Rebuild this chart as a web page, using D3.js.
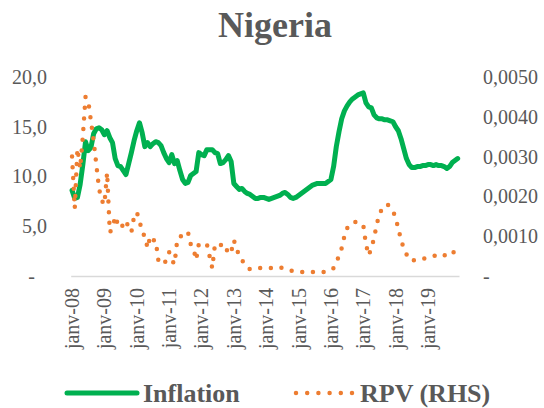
<!DOCTYPE html>
<html>
<head>
<meta charset="utf-8">
<script src="https://cdn.jsdelivr.net/npm/d3@7"></script>
<style>
    body { margin: 0; background: #fff; }
    #chart { width: 544px; height: 408px; }
    text { font-family: 'Liberation Serif', 'Times New Roman', serif; fill: #595959; }
</style>
</head>
<body>
<div id="chart"></div>
<script>
// Month categories, Jan 2008 .. Dec 2019
var monthNames = ['janv', 'févr', 'mars', 'avr', 'mai', 'juin', 'juil', 'août', 'sept', 'oct', 'nov', 'déc'];
var years = ['08', '09', '10', '11', '12', '13', '14', '15', '16', '17', '18', '19'];
var months = [];
years.forEach(function(y) {
    monthNames.forEach(function(m) { months.push(m + '-' + y); });
});

// Inflation (%, left axis)
var inflation = [
    8.6, 7.8, 7.9, 9.2, 11.2, 13.5, 12.6, 12.9, 14.3, 14.8, 14.9, 14.7,
    14.2, 14.6, 13.9, 13.4, 11.8, 11.1, 11.0, 10.6, 10.2, 11.3, 12.4, 13.6,
    14.6, 15.4, 14.4, 13.0, 13.4, 13.0, 13.3, 13.5, 13.4, 13.1, 12.4, 11.8,
    11.4, 12.2, 11.3, 11.6, 10.6, 9.7, 9.3, 9.4, 10.1, 10.3, 10.5, 12.4,
    12.2, 12.1, 12.7, 12.7, 12.7, 12.4, 12.3, 11.3, 11.4, 11.7, 12.1, 11.5,
    9.3, 9.0, 8.7, 8.8, 8.5, 8.3, 8.2, 8.0, 7.8, 7.8, 7.9, 7.9,
    7.8, 7.7, 7.8, 7.9, 8.0, 8.1, 8.3, 8.4, 8.2, 7.9, 7.8, 7.9,
    8.1, 8.3, 8.5, 8.7, 8.9, 9.1, 9.2, 9.3, 9.3, 9.3, 9.3, 9.5,
    9.7, 11.0, 13.0, 14.5, 15.8, 16.6, 17.1, 17.5, 17.8, 18.0, 18.2, 18.3,
    18.4, 17.4, 17.0, 16.9, 16.2, 15.9, 15.8, 15.8, 15.7, 15.7, 15.6, 15.5,
    15.0, 14.6, 13.8, 12.8, 11.8, 11.2, 10.9, 10.9, 11.0, 11.0, 11.1, 11.1,
    11.2, 11.2, 11.1, 11.2, 11.1, 11.1, 11.0, 10.8, 11.0, 11.4, 11.6, 11.8
];

// Relative price variability (right axis)
var rpv = [
    0.0030, 0.0017, 0.0032, 0.0027, 0.0035, 0.0045, 0.0044, 0.0039, 0.0034, 0.0028, 0.0022, 0.0019,
    0.0018, 0.0026, 0.0011, 0.0012, 0.0015, 0.0013, 0.0012, 0.0013, 0.0014, 0.0012, 0.0011, 0.0015,
    0.0016, 0.0014, 0.0011, 0.0010, 0.0007, 0.0010, 0.0009, 0.0009, 0.0004, 0.0003, 0.0003, 0.0004,
    0.0006, 0.0004, 0.0003, 0.0009, 0.0010, 0.0010, 0.0010, 0.0011, 0.0008, 0.0007, 0.0004, 0.0008,
    0.0008, 0.0008, 0.0008, 0.0005, 0.0002, 0.0008, 0.0008, 0.0008, 0.0007, 0.0006, 0.0007, 0.0006,
    0.0009, 0.0007, 0.0005, 0.0004, 0.0003, 0.0002, 0.00017, 0.00017, 0.00018, 0.0002, 0.0002, 0.0002,
    0.0002, 0.0002, 0.0002, 0.0002, 0.00021, 0.00022, 0.0002, 0.00018, 0.00015, 0.00014, 0.00012, 0.00011,
    0.0001, 0.0001, 0.0001, 0.0001, 0.0001, 0.0001, 0.0001, 0.0001, 0.0001, 0.0001, 0.0001, 0.00012,
    0.00016, 0.0002, 0.00035, 0.0005, 0.0007, 0.0010, 0.0012, 0.0013, 0.00135, 0.00136, 0.00135, 0.0013,
    0.00128, 0.0008, 0.00052, 0.0007, 0.00095, 0.0013, 0.00155, 0.0017, 0.00178, 0.0018, 0.00172, 0.00165,
    0.00145, 0.0012, 0.0009, 0.0007, 0.00055, 0.00042, 0.00038, 0.0004, 0.0004, 0.00042, 0.00043, 0.00045,
    0.00047, 0.00048, 0.0005, 0.00052, 0.00055, 0.00056, 0.00053, 0.0005, 0.0005, 0.00057, 0.00063, 0.0007
];

// Axis ticks
var xTickLabels = ['janv-08', 'janv-09', 'janv-10', 'janv-11', 'janv-12', 'janv-13',
                   'janv-14', 'janv-15', 'janv-16', 'janv-17', 'janv-18', 'janv-19'];
var leftTicks = [0, 5, 10, 15, 20];
var rightTicks = [0, 0.001, 0.002, 0.003, 0.004, 0.005];

var green = '#00b050';
var orange = '#ed7d31';

var svg = d3.select('#chart').append('svg')
    .attr('width', 544)
    .attr('height', 408);

// Plot area
var plot = {left: 70.7, right: 459, top: 77, bottom: 276};

var x = d3.scaleBand().domain(months).range([plot.left, plot.right]);
var yL = d3.scaleLinear().domain([0, 20]).range([plot.bottom, plot.top]);
var yR = d3.scaleLinear().domain([0, 0.005]).range([plot.bottom, plot.top]);

function cx(i) { return x(months[i]) + x.bandwidth() / 2; }

// Title
svg.append('text')
    .attr('x', 275)
    .attr('y', 37)
    .style('text-anchor', 'middle')
    .style('font-size', '36px')
    .style('font-weight', 'bold')
    .text('Nigeria');

// Left axis
var leftAxis = d3.axisLeft(yL)
    .tickValues(leftTicks)
    .tickSize(0)
    .tickPadding(0)
    .tickFormat(function(d) { return d === 0 ? '-' : d3.format('.1f')(d).replace('.', ','); });

var gL = svg.append('g')
    .attr('transform', 'translate(47,0)')
    .call(leftAxis);
gL.select('.domain').remove();
gL.selectAll('text')
    .style('font-size', '20px')
    .style('fill', '#595959')
    .style('font-family', "'Liberation Serif', serif")
    .attr('dx', function(d) { return d === 0 ? -12 : 0; });

// Right axis
var rightAxis = d3.axisRight(yR)
    .tickValues(rightTicks)
    .tickSize(0)
    .tickPadding(0)
    .tickFormat(function(d) { return d === 0 ? '-' : d3.format('.4f')(d).replace('.', ','); });

var gR = svg.append('g')
    .attr('transform', 'translate(483,0)')
    .call(rightAxis);
gR.select('.domain').remove();
gR.selectAll('text')
    .style('font-size', '20px')
    .style('fill', '#595959')
    .style('font-family', "'Liberation Serif', serif");

// X axis
var xAxis = d3.axisBottom(x)
    .tickValues(months.filter(function(m) { return xTickLabels.indexOf(m) >= 0; }))
    .tickSize(0)
    .tickPadding(0);

var gX = svg.append('g')
    .attr('transform', 'translate(0,' + plot.bottom + ')')
    .call(xAxis);
gX.select('.domain')
    .attr('stroke', '#d9d9d9')
    .attr('stroke-width', 1.5);
gX.selectAll('text')
    .style('font-size', '20px')
    .style('fill', '#595959')
    .style('font-family', "'Liberation Serif', serif")
    .style('text-anchor', 'end')
    .attr('dy', '0.35em')
    .attr('transform', 'translate(0,12) rotate(-90)')
    .attr('x', 0)
    .attr('y', 0);

// Inflation line
var lineL = d3.line()
    .x(function(d, i) { return cx(i); })
    .y(function(d) { return yL(d); });

svg.append('path')
    .datum(inflation)
    .attr('fill', 'none')
    .attr('stroke', green)
    .attr('stroke-width', 5)
    .attr('stroke-linejoin', 'round')
    .attr('stroke-linecap', 'round')
    .attr('d', lineL);

// RPV dotted line
var lineR = d3.line()
    .x(function(d, i) { return cx(i); })
    .y(function(d) { return yR(d); });

svg.append('path')
    .datum(rpv)
    .attr('fill', 'none')
    .attr('stroke', orange)
    .attr('stroke-width', 4.5)
    .attr('stroke-linecap', 'round')
    .attr('stroke-dasharray', '0 10.7')
    .attr('d', lineR);

// Legend
var legend = svg.append('g').attr('class', 'legend');

legend.append('line')
    .attr('x1', 67).attr('x2', 137)
    .attr('y1', 393).attr('y2', 393)
    .attr('stroke', green)
    .attr('stroke-width', 5)
    .attr('stroke-linecap', 'round');

legend.append('text')
    .attr('x', 143)
    .attr('y', 402)
    .style('font-size', '26px')
    .style('font-weight', 'bold')
    .text('Inflation');

legend.append('line')
    .attr('x1', 296).attr('x2', 352)
    .attr('y1', 393).attr('y2', 393)
    .attr('stroke', orange)
    .attr('stroke-width', 4.5)
    .attr('stroke-linecap', 'round')
    .attr('stroke-dasharray', '0 11.2');

legend.append('text')
    .attr('x', 360)
    .attr('y', 402)
    .style('font-size', '26px')
    .style('font-weight', 'bold')
    .text('RPV (RHS)');
</script>
</body>
</html>
